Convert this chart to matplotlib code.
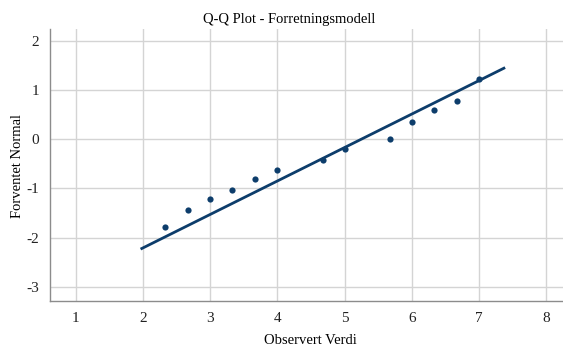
import numpy as np
import matplotlib.pyplot as plt

# Observerte verdier og forventede normalkvantiler
observert = [2.33, 2.67, 3.0, 3.33, 3.67, 4.0, 4.67, 5.0, 5.67, 6.0, 6.33, 6.67, 7.0]
forventet = [-1.78, -1.43, -1.21, -1.03, -0.81, -0.63, -0.42, -0.21, 0.01, 0.34, 0.60, 0.77, 1.23]

# Referanselinje (endepunkter)
linje_x = [1.98, 7.37]
linje_y = [-2.22, 1.44]

xticks = [1, 2, 3, 4, 5, 6, 7, 8]
yticks = [-3, -2, -1, 0, 1, 2]

plt.rcParams['font.family'] = ['Liberation Serif', 'DejaVu Serif']
plt.rcParams['axes.unicode_minus'] = False

farge = '#0d3d6b'

fig = plt.figure(figsize=(5.63, 3.47), dpi=100)
ax = fig.add_axes([0.089, 0.132, 0.911, 0.785])

ax.plot(linje_x, linje_y, color=farge, linewidth=2.0, zorder=3)
ax.scatter(observert, forventet, s=20, color=farge, zorder=4, linewidths=0)

ax.set_xlim(0.615, 8.25)
ax.set_ylim(-3.29, 2.24)
ax.set_xticks(xticks)
ax.set_yticks(yticks)

ax.grid(True, color='#d4d4d4', linewidth=1.0)
ax.set_axisbelow(True)
for side in ['top', 'right']:
    ax.spines[side].set_visible(False)
for side in ['left', 'bottom']:
    ax.spines[side].set_color('#8c8c8c')
    ax.spines[side].set_linewidth(1.0)
ax.tick_params(length=0, labelsize=11, pad=8, colors='#222222')

# titler plassert direkte i figuren
fig.text(289.5 / 563, 1 - 19 / 347, 'Q-Q Plot - Forretningsmodell', fontsize=10.5,
         ha='center', va='center')
fig.text(310.5 / 563, 1 - 340 / 347, 'Observert Verdi', fontsize=10.5,
         ha='center', va='center')
fig.text(18 / 563, 1 - 166 / 347, 'Forventet Normal', fontsize=10.5,
         ha='center', va='center', rotation=90)

plt.savefig('out.png', dpi=100)
